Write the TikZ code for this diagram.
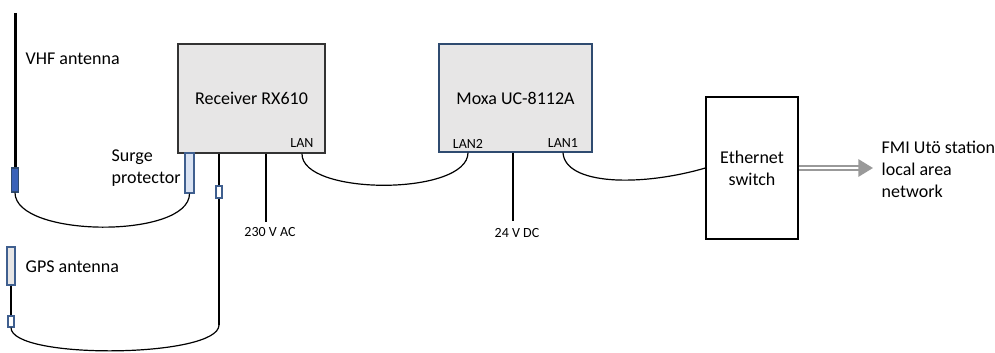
\documentclass[tikz,border=0pt]{standalone}
\usepackage{fontspec}
\setmainfont{Carlito}
\usepackage{xcolor}
\usetikzlibrary{arrows.meta, positioning}
\definecolor{boxgray}{HTML}{E7E6E6}
\definecolor{darkblue}{HTML}{2F4B70}
\definecolor{midblue}{HTML}{3F5F8F}
\definecolor{paleblue}{HTML}{DAE3F3}
\definecolor{plugblue}{HTML}{3A62B8}

\begin{document}
\begin{tikzpicture}[x=0.75pt, y=-0.75pt, font=\fontsize{13.5}{16.5}\selectfont,
  unit/.style={draw=black!80, fill=boxgray, line width=0.9pt, inner sep=0pt},
  plug/.style={draw=midblue, line width=0.9pt, inner sep=0pt},
  small/.style={font=\fontsize{10.5}{12}\selectfont, inner sep=1pt},
  cable/.style={line width=0.9pt},
  netarrow/.style={draw=black!40, double=white, double distance=1.5pt, line width=1.5pt,
    -{Triangle[length=11pt, width=13pt, fill=black!40]}}]
\useasboundingbox (0,0) rectangle (995,353);
% Geraete
\node[unit, minimum width=110.25pt, minimum height=81.75pt] (rx) at (251.5,98.5) {Receiver RX610};
\node[unit, draw=darkblue, minimum width=114.75pt, minimum height=81pt] (moxa) at (515.5,98) {Moxa UC-8112A};
\node[unit, fill=white, draw=black, minimum width=69pt, minimum height=106.5pt, align=center] (sw) at (752,168) {Ethernet\\switch};
% Anschluesse
\node[small] (rxlan) at (302,143) {LAN};
\node[small] (lan2) at (468,144) {LAN2};
\node[small] (lan1) at (563,143) {LAN1};
% Antennen und Stecker
\coordinate (vhftop) at (15,13);
\node[plug, draw=darkblue, fill=plugblue, minimum width=5.25pt, minimum height=18pt] (vhfc) at (15,180) {};
\node[plug, fill=paleblue, minimum width=6.75pt, minimum height=30pt] (surge) at (189.5,173) {};
\node[plug, fill=boxgray, minimum width=6pt, minimum height=28.5pt] (gps) at (11,266) {};
\node[plug, fill=white, minimum width=4.5pt, minimum height=8.25pt] (gpsc) at (11,321.5) {};
\node[plug, fill=white, minimum width=4.5pt, minimum height=9pt] (rxc) at (219,192) {};
\coordinate (rxgps) at (219,325);
% Texte
\node[anchor=west] (vhflabel) at (21,59) {VHF antenna};
\node[anchor=west, align=left] (surgelabel) at (107,168) {Surge\\protector};
\node[anchor=west] (gpslabel) at (21,267) {GPS antenna};
\node[anchor=west, align=left] (fmi) at (877,169) {FMI Utö station\\local area\\network};
% Versorgung
\coordinate (acend) at (266,222);
\coordinate (dcend) at (513,221);
\node[small, below=3pt of acend, xshift=3pt] (ac) {230 V AC};
\node[small, below=4pt of dcend, xshift=3pt] (dc) {24 V DC};
\draw[cable] (acend |- rx.south) -- (acend);
\draw[cable] (dcend |- moxa.south) -- (dcend);
% Kabel
\draw[line width=2.25pt] (vhftop) -- (vhfc.north);
\draw[cable] (vhfc.south) .. controls (15,238) and (189.5,239) .. (surge.south);
\draw[cable] (rxc |- rx.south) -- (rxc.north);
\draw[cable] (rxc.south) -- (rxgps);
\draw[cable] (gps.south) -- (gpsc.north);
\draw[cable] (gpsc.south) .. controls (11,360) and (219,358) .. (rxgps);
\draw[cable] (rxlan |- rx.south) .. controls (301,196) and (468,196) .. (lan2 |- moxa.south);
\draw[cable] (lan1 |- moxa.south) .. controls (565,185) and (640,187) .. (sw.west);
\draw[netarrow] (sw.east) -- ([xshift=-3pt]sw.east -| fmi.west);
\end{tikzpicture}
\end{document}
